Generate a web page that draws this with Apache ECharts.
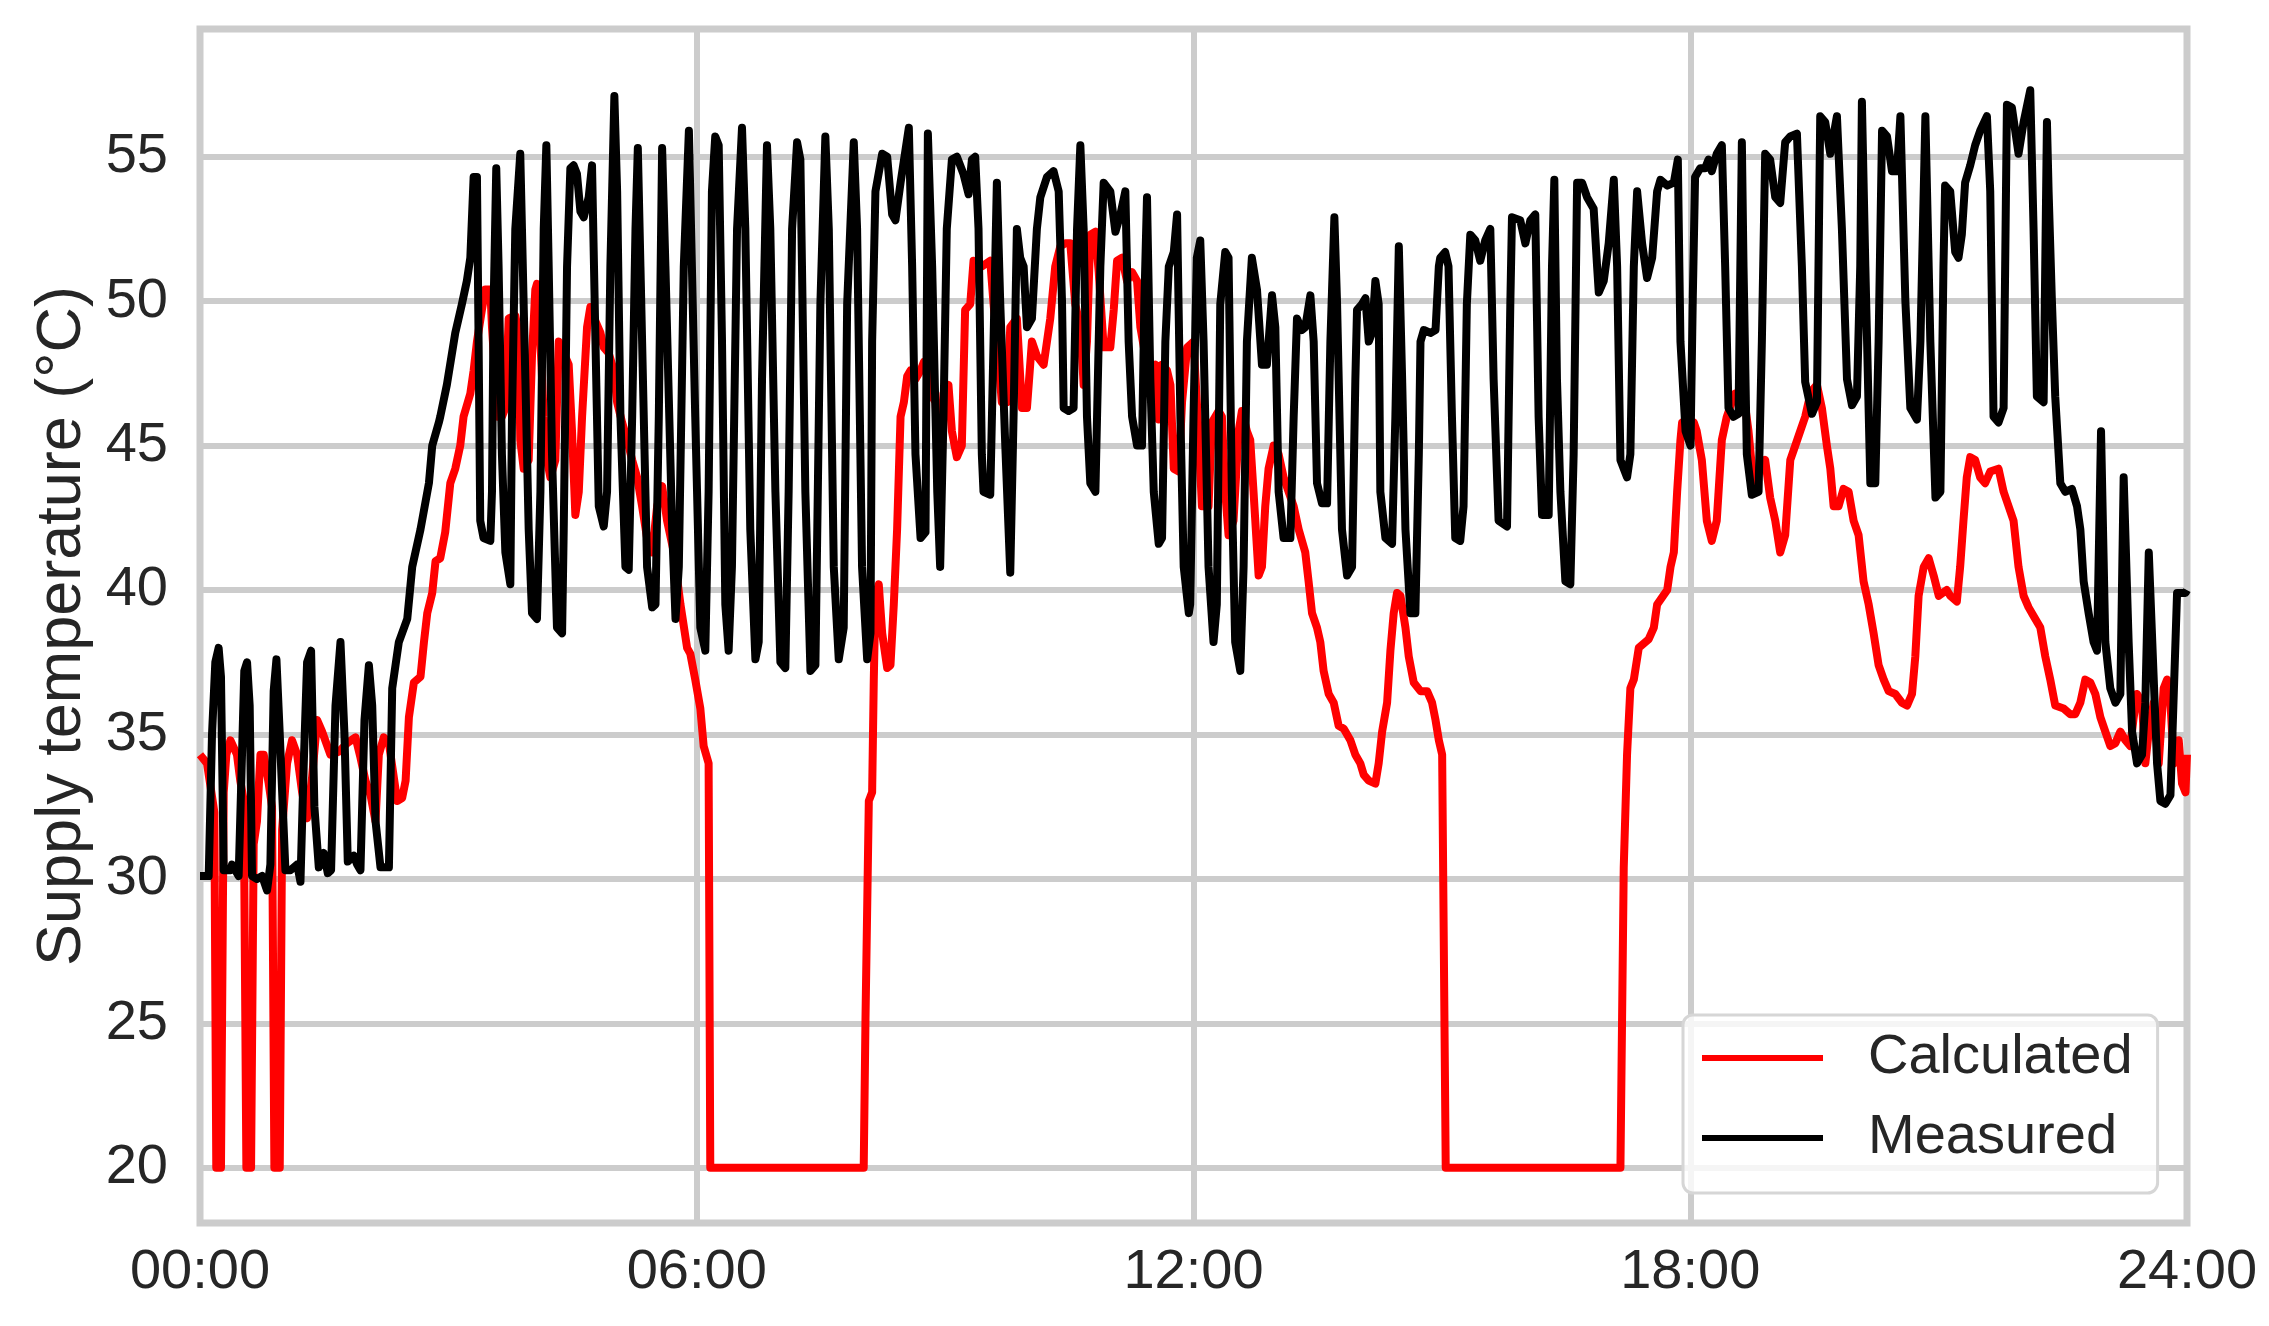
<!DOCTYPE html>
<html><head><meta charset="utf-8">
<script src="https://cdn.jsdelivr.net/npm/echarts@6/dist/echarts.min.js"></script>
<style>html,body{margin:0;padding:0;background:#fff}#c{width:2269px;height:1326px}</style>
</head><body><div id="c"></div>
<script>
// time in minutes after midnight, temperature in °C
const xTickValues = [0, 360, 720, 1080, 1440];
const xTickLabels = ['00:00', '06:00', '12:00', '18:00', '24:00'];
const yTicks = [20, 25, 30, 35, 40, 45, 50, 55];

const calcTime = [
0,5.1,9.8,10.4,11.8,15.2,17.2,19.1,22.0,26.8,29.2,31.7,33.6,37.0,38.9,41.3,43.8,46.2,49.8,52.2,53.9,57.8,59.5,63.1,66.7,70.4,74.0,77.6,81.2,84.9,88.5,94.5,100.6,106.6,112.7,116.3,119.9,123.6,127.2,129.6,133.2,136.9,140.5,142.9,146.5,149.0,151.4,155.0,159.8,162.3,164.7,168.3,170.7,
174.1,177.7,181.4,185.0,188.6,191.0,195.9,198.3,200.7,204.3,206.7,210.4,211.6,214.0,215.2,218.8,221.3,223.7,228.5,230.9,232.1,234.6,238.2,240.6,243.0,244.2,246.7,249.1,251.5,253.9,257.5,260.0,267.2,269.6,272.0,274.5,276.9,280.5,282.9,286.6,290.2,292.6,296.2,299.9,302.3,305.9,309.5,313.2,316.8,320.4,324.0,327.7,331.3,334.9,338.5,343.4,348.2,353.0,
355.3,358.9,362.6,365.0,368.6,369.8,481.0,482.3,484.7,487.1,488.3,489.5,491.9,494.4,498.0,500.4,502.8,505.2,507.7,510.1,512.5,514.9,518.5,522.2,524.6,527.0,529.4,533.1,535.5,
536.4,538.8,542.4,544.9,548.5,552.1,554.5,558.2,560.6,566.6,572.7,575.1,577.5,581.1,584.8,587.2,592.0,595.7,599.3,602.9,606.5,611.4,616.2,619.8,623.5,627.1,630.7,634.3,638.0,640.4,642.8,645.2,648.9,651.3,654.9,659.7,662.2,664.6,668.2,671.8,675.5,679.1,681.5,685.1,687.5,692.4,694.8,697.2,700.8,703.3,705.7,709.3,711.7,715.4,
720.0,723.6,726.1,730.9,733.3,738.2,740.6,743.0,745.4,749.0,752.7,755.1,758.7,761.1,763.5,767.2,769.6,772.0,774.4,778.1,781.7,785.3,788.9,792.6,796.2,801.0,803.4,805.9,809.5,811.9,814.3,818.0,821.6,825.2,828.9,833.7,837.3,840.9,843.4,847.0,851.8,854.2,856.7,860.3,862.7,865.1,867.5,870.0,873.6,876.0,879.6,884.5,889.3,892.9,895.4,897.8,900.2,902.8,
1029.4,1031.8,1034.2,1036.6,1039.1,1042.7,1049.9,1053.6,1056.0,1063.3,1065.7,1068.1,1070.5,1072.9,1074.1,1077.8,1082.6,
1084.7,1088.4,1092.0,1095.6,1099.2,1102.9,1106.5,1110.1,1112.5,1116.2,1118.6,1122.2,1125.8,1130.7,1134.3,1137.9,1141.6,1145.2,1148.8,1152.5,1156.1,1159.7,1163.3,1165.7,1168.2,1171.8,1175.4,1179.0,1181.5,1183.9,1187.5,1191.1,1194.8,1198.4,1202.0,1205.6,1209.3,1212.9,1216.5,1220.2,1223.8,1228.6,1233.4,1237.1,1240.7,1243.1,1245.5,1249.2,1252.8,1256.4,1260.1,
1265.9,1268.4,1273.2,1275.6,1278.0,1280.4,1282.9,1286.5,1290.1,1293.7,1297.4,1303.4,1307.1,1310.7,1314.3,1317.9,1321.6,1325.2,1328.8,1333.7,1337.3,1340.9,1344.5,1350.6,1355.4,1359.0,1362.7,1366.3,1369.9,1373.6,1377.2,1380.8,1384.4,1388.1,1391.7,1395.3,1398.9,1401.4,1403.8,1407.4,1409.8,1412.3,1415.9,1419.5,1423.1,1425.6,1428.0,1430.4,1434.0,1436.4,1438.9,1440
];
const calcTemp = [
34.3,34.0,32.5,32.3,20,20,33.0,34.3,34.8,34.3,33.4,32.7,20,20,31.2,32.0,34.3,34.3,33.3,32.5,20,20,31.7,34.0,34.8,34.3,33.0,32.1,33.5,35.5,35.1,34.3,34.4,34.7,34.9,34.2,33.4,32.9,32.0,34.3,34.9,34.7,33.5,32.7,32.8,33.4,35.6,36.8,37.0,38.2,39.2,39.9,41.0,
41.1,42.0,43.7,44.2,45.0,46.0,46.8,47.6,48.6,49.7,50.4,50.4,49.1,47.3,46.0,46.0,46.3,49.4,49.5,48.9,45.2,44.2,44.5,48.1,50.4,50.6,48.6,46.0,44.5,43.9,44.5,48.6,47.8,45.5,42.6,43.4,46.0,49.1,49.8,49.3,48.9,48.4,48.2,47.6,46.5,45.8,45.2,44.5,43.9,42.9,41.8,41.3,42.9,43.6,42.4,41.3,39.5,38.0,
37.8,36.9,35.9,34.6,34.0,20,20,25.2,32.7,33.0,36.9,39.8,40.2,38.5,37.3,37.4,39.5,42.1,46.0,46.5,47.4,47.6,47.3,47.6,47.9,47.6,46.8,46.5,44.2,
45.2,46.8,47.1,45.5,44.6,45.0,49.7,49.9,51.4,51.2,51.4,49.9,48.6,46.5,46.5,49.1,49.4,46.3,46.3,48.6,48.1,47.8,49.4,51.2,51.9,52.0,52.0,49.9,49.1,47.1,48.6,52.3,52.4,51.0,48.4,48.4,49.7,51.4,51.5,50.7,51.0,50.7,49.1,48.1,47.6,47.8,45.9,47.8,47.6,47.1,44.2,44.1,46.5,48.4,
48.6,45.5,42.9,42.9,45.8,46.2,46.0,43.4,41.9,42.4,45.5,46.2,45.5,45.2,43.4,40.5,40.8,42.9,44.2,45.0,44.7,43.9,43.4,42.9,42.1,41.3,40.3,39.2,38.7,38.2,37.2,36.4,36.1,35.3,35.2,34.8,34.3,34.0,33.6,33.4,33.3,34.0,35.1,36.1,37.9,39.2,39.9,39.8,38.7,37.7,36.8,36.5,36.5,36.1,35.5,34.8,34.3,20,
20,30.4,34.3,36.6,36.9,38.0,38.3,38.7,39.5,40.0,40.8,41.3,43.4,45.2,45.8,45.9,45.8,
45.5,44.5,42.4,41.7,42.4,45.2,46.0,46.5,46.8,46.5,46.8,45.5,43.7,44.2,44.5,43.2,42.4,41.3,41.9,44.5,45.0,45.5,46.0,46.5,46.9,47.1,46.3,45.0,44.2,42.9,42.9,43.5,43.4,42.4,41.9,40.3,39.5,38.5,37.4,36.9,36.5,36.4,36.1,36.0,36.4,37.7,39.8,40.8,41.1,40.5,39.8,
40.0,39.8,39.6,40.8,42.4,43.9,44.6,44.5,43.9,43.7,44.1,44.2,43.4,42.9,42.4,40.8,39.8,39.4,39.1,38.7,37.7,36.9,36.0,35.9,35.7,35.7,36.1,36.9,36.8,36.4,35.6,35.1,34.6,34.7,35.1,34.8,34.6,35.6,36.4,36.1,34.0,35.1,36.1,34.0,36.6,36.9,36.1,34.0,34.8,33.3,33.0,34.3
];

const measTime = [
0,6.3,8.7,11.1,13.5,15.2,17.2,22.0,23.2,28.0,29.7,32.1,34.1,36.0,37.7,41.3,45.0,48.6,51.0,53.4,55.4,57.8,61.9,65.5,70.4,72.8,75.2,77.6,80.5,82.9,86.1,89.7,92.6,95.0,98.2,101.8,104.7,107.1,111.5,113.9,116.3,119.2,122.4,124.8,127.2,130.8,136.9,139.3,144.1,150.2,153.8,159.8,165.9,168.3,173.1,
174.1,178.9,185.0,189.8,193.4,195.9,198.3,200.7,201.9,203.1,205.5,210.4,211.6,212.8,214.7,216.4,218.8,221.3,224.9,226.1,228.5,232.1,235.8,238.2,240.6,244.2,246.7,249.1,251.0,252.7,255.1,258.7,262.4,263.6,266.0,268.4,270.8,273.2,275.7,278.1,281.7,284.1,286.6,289.0,292.6,295.0,297.4,300.3,302.3,304.7,308.3,310.7,313.2,315.6,317.3,319.2,324.0,327.7,330.1,332.5,334.9,337.3,342.2,344.6,347.0,350.6,354.3,
358.9,362.6,366.2,368.6,371.0,373.4,375.9,378.3,380.7,383.1,385.5,389.2,392.8,395.2,398.8,402.5,404.9,407.3,410.9,413.3,417.0,420.6,424.2,426.6,429.1,432.7,435.1,438.7,442.4,446.0,449.6,453.2,455.7,459.3,462.9,466.5,469.0,473.8,476.2,479.8,483.5,485.9,487.1,489.5,494.4,498.0,501.6,504.0,507.7,513.7,516.1,518.5,522.2,525.8,527.5,530.6,534.3,
536.4,538.8,541.2,544.9,548.5,553.3,557.0,559.4,561.8,564.2,566.6,567.8,572.7,575.1,577.5,579.9,583.6,587.2,589.6,592.0,594.4,596.9,599.3,602.9,606.5,609.0,613.8,618.6,622.3,624.7,625.9,629.5,633.1,635.6,638.0,640.4,642.8,645.2,648.9,650.1,652.5,654.9,659.7,663.4,667.0,670.6,673.0,675.5,679.1,682.7,684.4,686.3,688.7,691.2,694.8,697.2,699.6,702.1,705.7,708.1,710.5,712.9,716.6,
717.6,720.0,722.4,724.9,727.3,730.9,734.5,736.9,739.4,743.0,745.4,747.8,750.2,753.9,756.3,758.7,762.3,766.0,769.6,773.2,776.9,779.3,781.7,785.3,790.2,792.6,795.0,798.6,801.0,804.7,807.1,809.5,813.1,816.8,819.2,822.1,824.0,827.6,831.3,834.9,837.3,838.5,842.1,844.6,847.0,849.4,851.8,854.2,855.4,859.1,863.9,866.3,868.8,871.2,873.6,877.2,880.8,883.3,884.5,886.9,891.7,895.4,897.8,
898.8,902.4,904.8,907.3,909.7,913.3,915.7,918.1,920.6,924.2,927.8,931.4,935.1,937.5,941.1,947.2,949.6,950.8,956.8,960.5,964.1,967.7,970.1,972.6,977.4,979.8,981.5,983.4,985.9,989.5,993.1,995.5,998.0,1001.6,1005.2,1010.0,1012.5,1013.7,1017.3,1020.9,1024.6,1027.0,1029.4,1034.2,1036.6,1039.1,1041.5,1045.1,1048.7,1052.4,1056.0,1058.4,1063.3,1068.1,1071.0,1072.9,1076.6,1080.2,
1081.8,1083.5,1087.2,1090.8,1093.2,1095.6,1099.2,1102.9,1105.3,1107.7,1111.3,1115.0,1117.4,1118.6,1121.0,1124.6,1129.5,1131.9,1134.3,1137.9,1141.6,1145.2,1148.8,1152.5,1157.3,1160.9,1163.3,1168.2,1171.8,1174.2,1177.8,1181.5,1186.3,1189.9,1193.6,1197.2,1200.8,1203.2,1204.4,1206.9,1210.5,1214.1,1216.5,1219.0,1222.6,1226.2,1229.8,1232.3,1235.9,1239.5,1244.3,1246.8,1250.4,1254.0,1257.7,1261.3,
1263.5,1264.7,1268.4,1272.0,1274.4,1276.8,1279.2,1282.9,1286.5,1290.1,1295.0,1297.4,1299.8,1303.4,1307.1,1309.5,1313.1,1315.5,1317.9,1321.6,1326.4,1328.8,1331.2,1336.1,1338.5,1339.7,1342.1,1344.5,1348.2,1351.8,1356.6,1360.3,1362.7,1365.1,1368.7,1372.3,1374.8,1377.7,1380.8,1384.4,1388.1,1391.7,1394.1,1397.7,1400.2,1403.8,1407.4,1409.8,1412.3,1415.9,1418.3,1420.7,1424.3,1428.0,1430.4,1432.8,1438.9,1440
];
const measTemp = [
30.1,30.1,35.0,37.5,38.0,37.0,30.3,30.3,30.5,30.1,33.0,37.2,37.5,36.0,30.1,30.0,30.1,29.6,30.5,36.5,37.6,35.0,30.3,30.3,30.5,29.9,34.0,37.5,37.9,32.5,30.4,30.9,30.2,30.3,36.0,38.2,35.0,30.6,30.8,30.5,30.3,35.5,37.4,36.0,32.0,30.4,30.4,36.6,38.2,39.0,40.8,42.1,43.7,45.0,45.8,
46.0,47.1,48.9,49.9,50.7,51.5,54.3,54.3,48.6,42.4,41.8,41.7,43.4,49.9,54.6,51.2,44.7,41.3,40.2,46.0,52.5,55.1,47.3,42.1,39.2,39.0,43.4,52.5,55.4,51.2,44.7,38.7,38.5,42.1,51.2,54.6,54.7,54.4,53.1,52.9,53.6,54.7,48.6,42.9,42.2,43.4,51.2,57.1,53.8,46.0,40.8,40.7,46.0,52.5,55.3,51.2,40.8,39.4,39.5,46.0,55.3,51.2,42.1,39.0,40.8,51.2,55.9,
46.0,38.7,37.9,43.4,53.8,55.7,55.4,48.6,39.5,37.9,40.8,52.5,56.0,52.5,42.1,37.6,38.2,47.3,55.4,52.5,43.4,37.5,37.3,43.4,52.5,55.5,54.9,43.4,37.2,37.4,49.9,55.7,52.5,40.8,37.6,38.7,49.9,55.5,52.5,40.8,37.6,38.5,48.6,53.8,55.1,55.0,53.0,52.8,54.1,56.0,51.2,44.7,41.8,42.0,55.8,51.2,43.4,
40.8,46.0,52.5,54.9,55.0,54.4,53.7,54.9,55.0,52.5,44.7,43.4,43.3,48.6,54.1,50.0,45.0,40.6,46.0,52.5,51.5,51.2,49.1,49.4,52.5,53.6,54.3,54.5,53.8,50.0,46.3,46.2,46.3,52.5,55.4,52.5,46.0,43.7,43.4,46.0,51.2,54.1,53.8,52.4,53.0,53.8,48.6,46.0,45.0,45.0,50.0,53.6,47.3,43.4,41.6,41.8,48.6,51.2,51.7,53.0,46.0,40.8,39.2,
39.5,46.0,51.5,52.1,48.6,40.8,38.2,39.5,49.9,51.7,51.5,43.4,38.2,37.2,40.8,48.6,51.5,50.4,47.8,47.8,50.2,49.1,43.4,41.8,41.8,46.0,49.4,49.0,49.1,50.2,48.6,43.7,43.0,43.0,48.6,52.9,50.0,42.1,40.5,40.8,47.3,49.7,49.9,50.1,48.6,48.9,50.7,49.9,43.4,41.8,41.6,46.0,51.9,47.3,42.1,39.2,39.2,44.7,48.6,49.0,48.9,49.0,51.2,
51.5,51.7,51.2,46.0,41.8,41.7,42.9,49.9,52.3,52.1,51.4,52.1,52.5,47.3,42.4,42.2,49.9,52.9,52.8,52.0,52.8,53.0,46.0,42.6,42.6,51.2,54.2,47.3,43.4,40.3,40.2,44.7,54.1,54.1,53.6,53.2,51.2,50.3,50.7,52.0,54.2,51.2,44.5,43.9,44.7,51.2,53.8,52.0,50.8,51.5,53.8,54.2,54.0,54.1,54.9,48.6,45.5,45.0,
50.0,54.3,54.6,54.6,54.9,54.5,55.1,55.4,51.2,46.3,46.0,46.1,55.5,51.2,44.7,43.3,43.4,48.6,55.1,54.9,53.6,53.4,55.5,55.7,55.8,51.2,47.2,46.1,46.5,56.4,56.2,55.1,56.4,52.5,47.3,46.4,46.7,51.2,56.9,51.2,43.7,43.7,48.6,55.9,55.7,54.5,54.5,56.4,50.0,46.3,45.9,48.6,56.4,48.6,43.2,43.4,
51.2,54.0,53.8,51.7,51.5,52.3,54.1,54.7,55.4,55.9,56.4,53.8,46.0,45.8,46.3,56.8,56.7,55.9,55.1,56.2,57.3,52.5,46.7,46.5,56.2,53.8,50.0,46.7,43.7,43.4,43.5,42.9,42.1,40.3,39.2,38.2,37.9,45.5,38.2,36.6,36.1,36.4,43.9,38.2,35.1,34.0,34.3,36.1,41.3,36.9,34.0,32.7,32.6,32.9,36.4,39.9,39.9,40.0
];

const toPairs = (ts, vs) => ts.map((t, i) => [t, vs[i]]);
const FONT = "'Liberation Sans', Arial, sans-serif";
const TXT = '#262626';
const GRIDC = '#cccccc';
const LW = 8;

function lineSeries(name, color, data, z) {
  return {
    name: name, type: 'line', data: data, z: z,
    symbol: 'none', showSymbol: false,
    color: color,
    lineStyle: {width: LW, color: color, join: 'round'},
    itemStyle: {color: color},
    emphasis: {disabled: true}
  };
}

const chart = echarts.init(document.getElementById('c'), null, {renderer: 'canvas'});
chart.setOption({
  animation: false,
  backgroundColor: '#ffffff',
  grid: {left: 200, right: 82, top: 29, bottom: 103, show: true,
         borderColor: GRIDC, borderWidth: 7, backgroundColor: '#ffffff', containLabel: false},
  xAxis: {
    type: 'value', min: 0, max: 1440, interval: 360,
    axisLine: {show: false}, axisTick: {show: false},
    axisLabel: {margin: 22, fontSize: 56, color: TXT, fontFamily: FONT,
      formatter: v => xTickLabels[xTickValues.indexOf(v)] || ''},
    splitLine: {show: true, lineStyle: {color: GRIDC, width: 6}}
  },
  yAxis: {
    type: 'value', min: 18.09, max: 59.42,
    name: 'Supply temperature (°C)', nameLocation: 'middle', nameGap: 106, nameRotate: 90,
    nameTextStyle: {fontSize: 63, color: TXT, fontFamily: FONT},
    axisLine: {show: false},
    axisTick: {show: false, customValues: yTicks},
    axisLabel: {customValues: yTicks, margin: 32, fontSize: 56, color: TXT, fontFamily: FONT},
    splitLine: {show: true, lineStyle: {color: GRIDC, width: 6}}
  },
  legend: {
    data: [{name: 'Calculated', icon: 'rect', itemStyle: {color: '#ff0000'}},
           {name: 'Measured', icon: 'rect', itemStyle: {color: '#000000'}}],
    orient: 'vertical', left: 1683, top: 1015,
    padding: [15, 25, 27, 19], itemGap: 24,
    itemWidth: 121, itemHeight: 6,
    backgroundColor: 'rgba(255,255,255,0.8)', borderColor: '#d6d6d6', borderWidth: 3, borderRadius: 10,
    textStyle: {fontSize: 56, lineHeight: 56, color: TXT, fontFamily: FONT, padding: [0, 0, 0, 40]}
  },
  series: [
    lineSeries('Calculated', '#ff0000', toPairs(calcTime, calcTemp), 3),
    lineSeries('Measured', '#000000', toPairs(measTime, measTemp), 4)
  ]
});
</script>
</body></html>
